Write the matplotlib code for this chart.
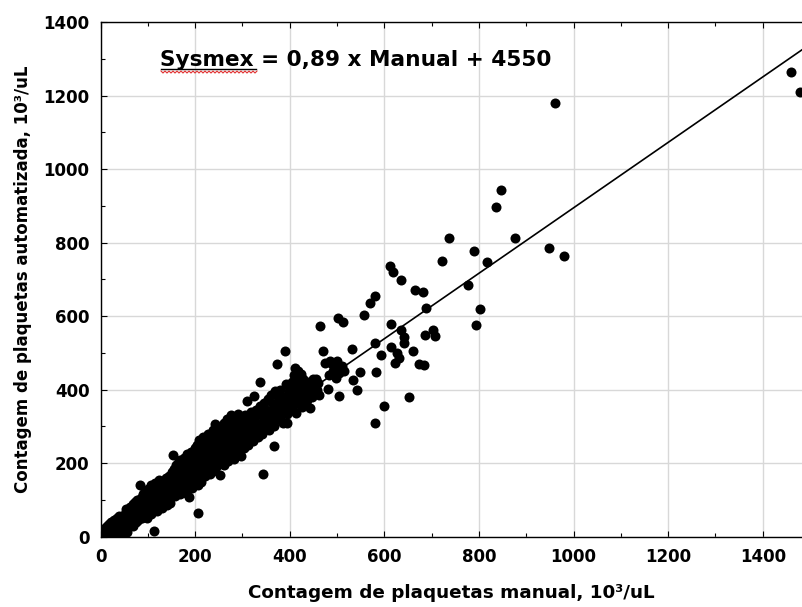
import matplotlib
matplotlib.use("Agg")
import matplotlib.pyplot as plt
from matplotlib.lines import Line2D
from matplotlib.ticker import MultipleLocator
import numpy as np

# dense band (manual vs automated, 10^3/uL)
dense_manual = [
    2, 4, 5, 6, 8, 9, 10, 12, 13, 14, 15, 17, 18, 19, 20, 22, 23, 24, 25, 26,
    28, 29, 30, 31, 33, 34, 35, 36, 37, 38, 39, 40, 41, 42, 44, 45, 46, 47, 48, 49, 50,
    51, 52, 53, 54, 55, 56, 57, 58, 60, 61, 62, 63, 64, 65, 66, 68, 69, 70, 71, 72,
    73, 74, 75, 76, 78, 79, 80, 81, 82, 83, 84, 85, 86, 87, 88, 89, 90, 91, 92, 93,
    94, 95, 96, 97, 98, 99, 100,
    101, 102, 103, 104, 105, 106, 107, 108, 109, 110, 111, 112, 113, 114, 115, 116,
    117, 118, 119, 120, 121, 122, 123, 124, 125, 126, 127, 128, 129, 130, 131, 132,
    133, 134, 135, 136, 137, 138, 139, 140, 141, 142, 143, 144, 145, 146, 147, 148, 149, 150,
    151, 152, 153, 154, 155, 156, 157, 158, 159, 160, 161, 162, 163, 164, 165, 166,
    167, 168, 169, 170, 171, 172, 173, 174, 175, 176, 177, 178, 179, 180, 181, 182,
    183, 184, 185, 186, 187, 188, 189, 190, 191, 192, 193, 194, 195, 196, 197, 198, 199, 200,
    201, 202, 203, 204, 205, 206, 207, 208, 209, 210, 211, 212, 213, 214, 215, 216,
    217, 218, 219, 220, 221, 222, 223, 224, 225, 226, 227, 228, 229, 230, 231, 232,
    233, 234, 235, 236, 237, 238, 239, 240, 241, 242, 243, 244, 245, 246, 247, 248, 249, 250,
    251, 252, 253, 254, 255, 256, 257, 258, 259, 260, 261, 262, 263, 264, 265, 266,
    267, 268, 269, 270, 271, 272, 273, 274, 275, 276, 277, 278, 279, 280, 281, 282,
    283, 284, 285, 286, 287, 288, 289, 290, 291, 292, 293, 294, 295, 296, 297, 298, 299, 300,
    302, 304, 306, 308, 309, 310, 312, 314, 316, 318, 320, 322, 324, 325, 326, 328,
    330, 332, 334, 336, 337, 338, 340, 342, 344, 345, 346, 348, 350,
    352, 354, 356, 358, 360, 362, 364, 366, 367, 368, 370, 372, 374, 375, 376, 378,
    380, 382, 384, 386, 388, 390, 391, 392, 394, 395, 396, 398, 400,
    402, 404, 406, 408, 410, 411, 412, 413, 414, 416, 418, 420, 422, 424, 425, 426,
    428, 430, 432, 434, 436, 438, 440, 442, 444, 446, 450, 453, 455, 458, 460, 462,
]
dense_sysmex = [
    3, 10, 0, 18, 5, 25, 12, 2, 30, 8, 20, 14, 35, 4, 26, 10, 40, 18, 2, 30,
    22, 45, 8, 34, 16, 50, 26, 5, 40, 56, 20, 30, 12, 46, 36, 3, 25, 52, 40, 15, 60,
    30, 48, 68, 75, 14, 40, 58, 26, 66, 50, 35, 80, 55, 42, 70, 30, 88, 60, 48, 95,
    72, 40, 82, 55, 100, 66, 45, 90, 75, 141, 58, 105, 80, 50, 96, 68, 115, 85, 60, 108,
    75, 125, 92, 55, 50, 110, 80,
    130, 95, 70, 118, 100, 62, 140, 85, 112, 75, 128, 96, 15, 105, 145, 80,
    120, 92, 135, 70, 110, 150, 98, 154, 86, 125, 140, 105, 78, 132, 115, 95,
    150, 120, 88, 142, 108, 160, 128, 100, 85, 148, 118, 135, 165, 105, 91, 155, 125, 140,
    175, 118, 222, 150, 130, 185, 110, 162, 140, 195, 122, 170, 150, 200, 135, 178,
    115, 209, 160, 145, 190, 128, 205, 170, 152, 215, 138, 185, 165, 200, 120, 178,
    225, 150, 195, 109, 172, 210, 140, 188, 230, 160, 205, 132, 180, 220, 150, 195, 170, 240,
    160, 210, 185, 250, 140, 225, 65, 195, 262, 170, 215, 240, 150, 200, 230, 272,
    180, 210, 250, 165, 225, 195, 260, 175, 240, 205, 280, 185, 230, 255, 170, 215,
    270, 195, 245, 225, 290, 180, 235, 260, 205, 306, 225, 190, 275, 245, 215, 285, 200, 255,
    230, 295, 168, 265, 210, 240, 300, 225, 270, 195, 250, 310, 232, 280, 215, 260,
    245, 320, 205, 270, 240, 295, 225, 255, 330, 215, 280, 250, 305, 235, 322, 265,
    210, 290, 245, 315, 270, 230, 300, 255, 335, 280, 240, 310, 265, 220, 290, 320, 250, 280,
    300, 240, 330, 265, 368, 290, 250, 315, 275, 340, 300, 260, 383, 320, 285, 345,
    305, 270, 335, 295, 422, 355, 310, 280, 170, 330, 365, 300, 345,
    315, 375, 290, 340, 385, 320, 360, 300, 248, 395, 335, 355, 469, 380, 320, 345,
    400, 330, 365, 310, 380, 506, 350, 415, 335, 309, 370, 395, 345,
    380, 420, 355, 440, 400, 458, 365, 336, 425, 390, 450, 370, 410, 443, 354, 395,
    430, 380, 404, 360, 372, 420, 395, 350, 410, 381, 430, 418, 429, 400, 419, 386,
]

# sparser points above ~460
spread_manual = [
    464, 471, 474, 481, 484, 485, 490, 492, 496, 498, 500, 503, 505, 505, 510, 513,
    514, 531, 534, 543, 548, 557, 570, 580, 580, 581, 582, 592, 599, 612, 613, 615,
    619, 622, 626, 631, 635, 636, 641, 642, 653, 661, 664, 674, 681, 684, 686, 688,
    702, 707, 721, 736, 777, 789, 794, 803, 817, 836, 846, 877, 947, 961, 980,
    1460, 1478,
]
spread_sysmex = [
    572, 506, 472, 401, 440, 479, 470, 450, 458, 432, 478, 595, 445, 383, 465, 583,
    450, 510, 425, 399, 448, 604, 635, 528, 310, 656, 447, 495, 356, 735, 579, 517,
    719, 472, 499, 487, 561, 697, 543, 527, 381, 506, 670, 470, 666, 467, 549, 621,
    563, 546, 751, 812, 684, 776, 575, 619, 748, 898, 943, 812, 785, 1180, 764,
    1265, 1210,
]

slope = 0.89
intercept = 4.55
fit_x = [0, 1500]

x_ticks = [0, 200, 400, 600, 800, 1000, 1200, 1400]
y_ticks = [0, 200, 400, 600, 800, 1000, 1200, 1400]

plt.rcParams['font.family'] = ['DejaVu Sans']

fig = plt.figure(figsize=(8.03, 6.07), dpi=100)
ax = fig.add_axes([0.1252, 0.1158, 0.8748, 0.848])

ax.scatter(dense_manual, dense_sysmex, s=52, c='black', marker='o', linewidths=0, zorder=3)
ax.scatter(spread_manual, spread_sysmex, s=52, c='black', marker='o', linewidths=0, zorder=3)

fx = np.array(fit_x)
ax.plot(fx, slope * fx + intercept, color='black', lw=1.2, zorder=4)

ax.set_xlim(0, 1485)
ax.set_ylim(0, 1400)
ax.set_xticks(x_ticks)
ax.set_yticks(y_ticks)
ax.xaxis.set_minor_locator(MultipleLocator(100))
ax.yaxis.set_minor_locator(MultipleLocator(100))
ax.grid(True, which='major', color='#d8d8d8', lw=1.0, zorder=0)
ax.set_axisbelow(True)

ax.spines['right'].set_visible(False)
for sp in ['left', 'bottom', 'top']:
    ax.spines[sp].set_linewidth(1.0)

ax.tick_params(which='both', direction='in', top=True, right=False, width=0.8)
ax.tick_params(which='major', length=4, pad=8)
ax.tick_params(which='minor', length=3)
for lab in ax.get_xticklabels() + ax.get_yticklabels():
    lab.set_fontweight('bold')
    lab.set_fontsize(12)

ax.set_xlabel('Contagem de plaquetas manual, 10³/uL', fontsize=13.2,
              fontweight='bold', labelpad=13)
ax.set_ylabel('Contagem de plaquetas automatizada, 10³/uL', fontsize=12,
              fontweight='bold', labelpad=8)

ax.text(0.0847, 0.9135, 'Sysmex = 0,89 x Manual + 4550', transform=ax.transAxes,
        fontsize=15.6, fontweight='bold', va='baseline', ha='left')

# underline and the red spell-check squiggle under "Sysmex"
W, H = 803.0, 607.0
fig.add_artist(Line2D([161 / W, 256 / W], [1 - 69.0 / H, 1 - 69.0 / H],
                      transform=fig.transFigure, color='black', lw=1.0))
sq_x = np.arange(161, 258, 2.0)
sq_y = np.where(np.arange(len(sq_x)) % 2 == 0, 71.0, 73.0)
fig.add_artist(Line2D(sq_x / W, 1 - sq_y / H, transform=fig.transFigure,
                      color='#e03030', lw=0.8))

fig.savefig('out.png', dpi=100)
